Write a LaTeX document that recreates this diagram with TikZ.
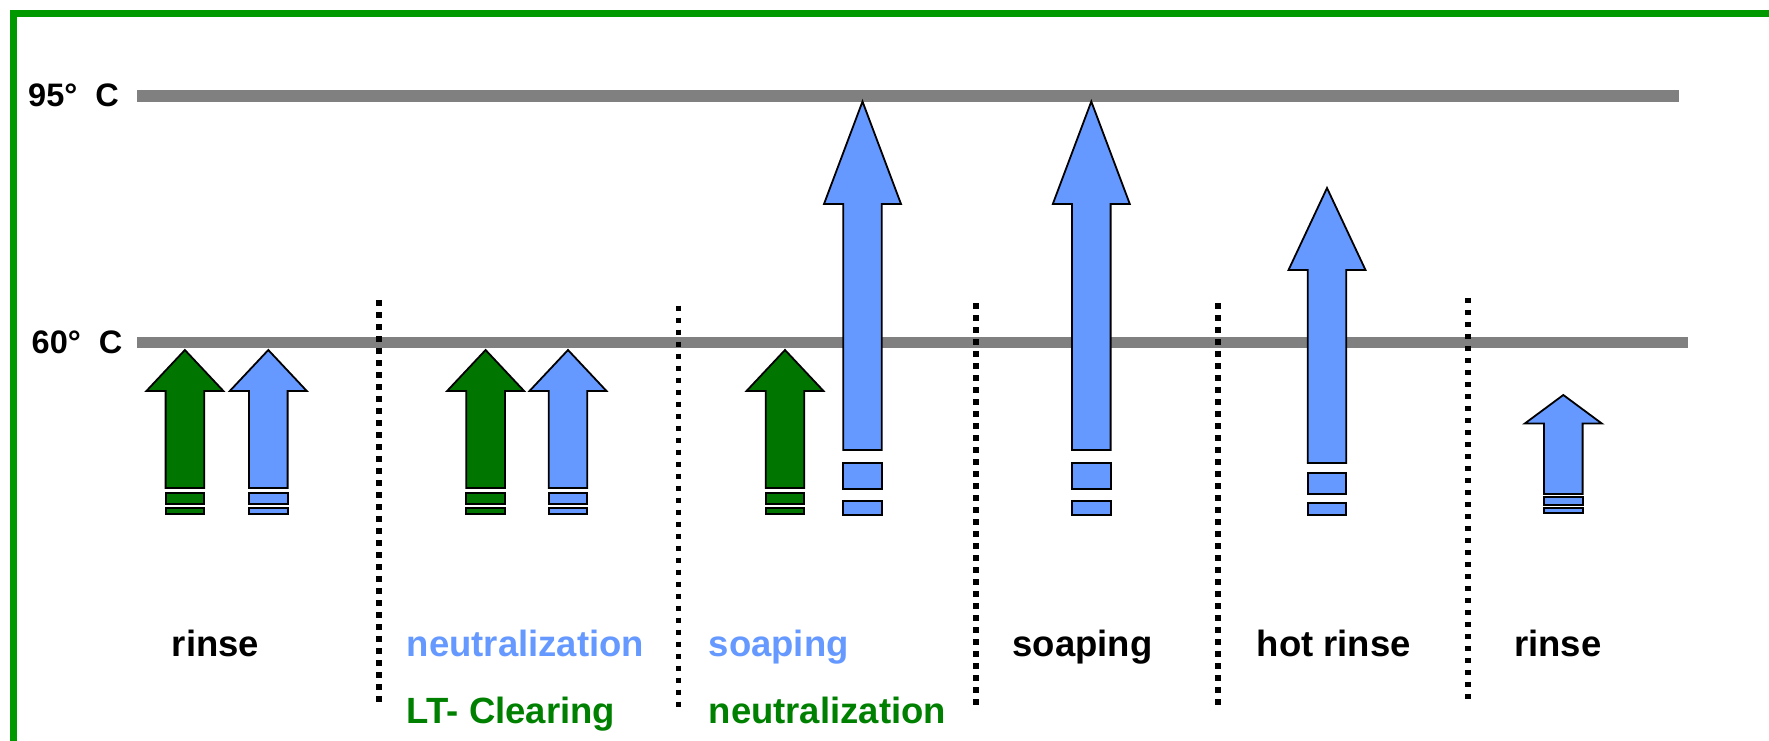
\documentclass[tikz,border=0pt]{standalone}
\usepackage{fontspec}
\setmainfont{Liberation Sans}
\usetikzlibrary{calc}

\definecolor{bathblue}{HTML}{6699FF}
\definecolor{bathgreen}{HTML}{007500}
\definecolor{textgreen}{HTML}{008000}
\definecolor{framegreen}{HTML}{009900}
\definecolor{levelgray}{HTML}{808080}

\tikzset{
    templevel/.style={levelgray, line width=11.7bp},
    stepsep/.style={black, line width=5.3bp, dash pattern=on 5.5bp off 6.5bp},
    steplabel/.style={inner sep=0pt, font=\fontsize{36.5bp}{40bp}\selectfont\bfseries},
    templabel/.style={inner sep=0pt, anchor=base west, font=\fontsize{32.5bp}{36bp}\selectfont\bfseries},
    bathshape/.style={draw=black, line width=1.8bp, line join=miter},
}

% #1 colour, #2 centre x, #3 tip y, #4 head y, #5 shaft end y, #6-#9 the two bars below
\newcommand{\batharrow}[9]{%
    \filldraw[bathshape, fill=#1] ({#2-19.3},#5) -- ({#2-19.3},#4) -- ({#2-38.5},#4)
        -- (#2,#3) -- ({#2+38.5},#4) -- ({#2+19.3},#4) -- ({#2+19.3},#5) -- cycle;
    \filldraw[bathshape, fill=#1] ({#2-19.3},#6) rectangle ({#2+19.3},#7);
    \filldraw[bathshape, fill=#1] ({#2-19.3},#8) rectangle ({#2+19.3},#9);
}

\begin{document}
\begin{tikzpicture}[x=1bp, y=-1bp]
            \useasboundingbox (0,0) rectangle (1769,741);
            % frame
            \draw[framegreen, line width=6.7bp] (13.3,760) -- (13.3,13.3) -- (1790,13.3);
            % temperature levels
            \draw[templevel] (137,96) -- (1679,96);
            \draw[templevel] (137,342.5) -- (1688,342.5);
            \node[templabel] (t95) at (28,106.7) {95°~~C};
            \node[templabel] (t60) at (31.5,353.2) {60°~~C};
            % separators between the steps
            \draw[stepsep] (379,300) -- (379,702);
            \draw[stepsep] (678.3,305.7) -- (678.3,708.4);
            \draw[stepsep] (976,303.4) -- (976,706);
            \draw[stepsep] (1218,303.4) -- (1218,706);
            \draw[stepsep] (1468,297.8) -- (1468,700);
            % baths
            \batharrow{bathgreen}{184.9}{350}{391}{488}{493}{504}{508}{514}
            \batharrow{bathblue}{268.3}{350}{391}{488}{493}{504}{508}{514}
            \batharrow{bathgreen}{485.6}{350}{391}{488}{493}{504}{508}{514}
            \batharrow{bathblue}{568}{350}{391}{488}{493}{504}{508}{514}
            \batharrow{bathgreen}{785}{350}{391}{488}{493}{504}{508}{514}
            \batharrow{bathblue}{862.5}{101.5}{204}{450}{462.7}{489}{501}{515}
            \batharrow{bathblue}{1091.3}{101.5}{204}{450}{462.7}{489}{501}{515}
            \batharrow{bathblue}{1327}{188}{270}{463}{473}{494}{503}{515}
            \batharrow{bathblue}{1563.3}{395}{423.5}{494}{496.7}{505}{507.7}{512.7}
            % step names
            \node[steplabel, anchor=base] (rinse1) at (215.5,656.7) {rinse};
            \node[steplabel, anchor=base west, bathblue] (neutral1) at (406.7,656.7) {neutralization};
            \node[steplabel, anchor=base west, textgreen] (clear1) at (406.7,723.3) {LT- Clearing};
            \node[steplabel, anchor=base west, bathblue] (soap1) at (708.5,656.7) {soaping};
            \node[steplabel, anchor=base west, textgreen] (neutral2) at (708.5,723.3) {neutralization};
            \node[steplabel, anchor=base] (soap2) at (1082.5,656.7) {soaping};
            \node[steplabel, anchor=base] (hotrinse) at (1333.8,656.7) {hot rinse};
            \node[steplabel, anchor=base] (rinse2) at (1557.8,656.7) {rinse};
        \end{tikzpicture}
\end{document}
